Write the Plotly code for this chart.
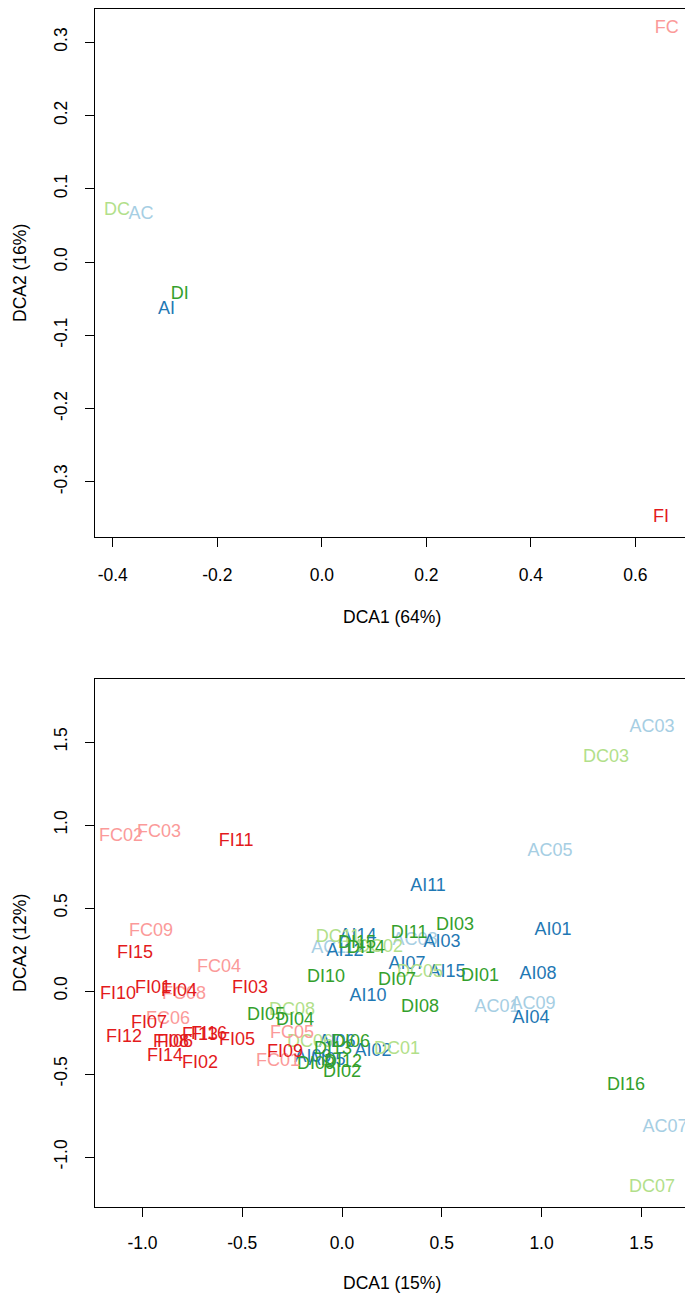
import plotly.graph_objects as go

# ---------------- data ----------------
# Top panel: group centroids
top_labels = ["FC", "FI", "DC", "AC", "DI", "AI"]
top_x = [0.660, 0.649, -0.392, -0.346, -0.272, -0.297]
top_y = [0.318, -0.349, 0.070, 0.065, -0.044, -0.065]

# Bottom panel: individual samples
bottom_labels = [
    "AC03", "DC03", "FC02", "FC03", "FI11", "AC05", "AI11", "AI01", "DI03", "FC09",
    "DI11", "AC08", "AI03", "DC11", "AI14", "DI15", "AI12", "DI14", "DC02", "AC11",
    "FI15", "AI07", "FC04", "DC05", "AI15", "DI01", "AI08", "DI10", "DI07", "FI03",
    "FI01", "FI04", "FC08", "FI10", "AI10", "AC09", "AC01", "DI08", "DC08", "DI05",
    "AI04", "DI04", "FC06", "FI07", "FC05", "FI13", "FI16", "FI12", "FI05", "FI08",
    "FI06", "DC06", "AI06", "DI06", "DC01", "DI13", "AI02", "FI09", "FI14", "AI09",
    "AI05", "FC01", "DI12", "FI02", "DI09", "DI02", "DI16", "AC07", "DC07",
]
bottom_x = [
    1.554, 1.323, -1.108, -0.917, -0.531, 1.043, 0.431, 1.058, 0.566, -0.957,
    0.336, 0.366, 0.501, -0.020, 0.080, 0.075, 0.015, 0.120, 0.190, -0.045,
    -1.038, 0.326, -0.617, 0.391, 0.526, 0.692, 0.982, -0.080, 0.276, -0.461,
    -0.947, -0.817, -0.792, -1.123, 0.130, 0.957, 0.777, 0.391, -0.251, -0.381,
    0.947, -0.236, -0.872, -0.967, -0.251, -0.712, -0.667, -1.093, -0.526, -0.857,
    -0.837, -0.160, -0.025, 0.045, 0.276, -0.045, 0.155, -0.286, -0.887, -0.145,
    -0.075, -0.321, 0.005, -0.712, -0.130, 0.000, 1.424, 1.619, 1.554,
]
bottom_y = [
    1.590, 1.410, 0.934, 0.958, 0.904, 0.843, 0.627, 0.367, 0.392, 0.361,
    0.349, 0.307, 0.295, 0.325, 0.331, 0.289, 0.241, 0.259, 0.265, 0.259,
    0.229, 0.163, 0.139, 0.114, 0.114, 0.090, 0.102, 0.084, 0.066, 0.018,
    0.018, 0.000, -0.018, -0.018, -0.030, -0.078, -0.102, -0.102, -0.120, -0.145,
    -0.163, -0.175, -0.169, -0.193, -0.253, -0.265, -0.259, -0.277, -0.295, -0.307,
    -0.307, -0.307, -0.307, -0.307, -0.355, -0.355, -0.367, -0.373, -0.392, -0.398,
    -0.416, -0.422, -0.428, -0.434, -0.440, -0.488, -0.566, -0.825, -1.181,
]

group_order = ["AC", "AI", "DC", "DI", "FC", "FI"]
group_colors = {
    "AC": "#A6CEE3", "AI": "#1F78B4", "DC": "#B2DF8A",
    "DI": "#33A02C", "FC": "#FB9A99", "FI": "#E31A1C",
}

top_xticks = [-0.4, -0.2, 0.0, 0.2, 0.4, 0.6]
top_xticktext = ["-0.4", "-0.2", "0.0", "0.2", "0.4", "0.6"]
top_yticks = [-0.3, -0.2, -0.1, 0.0, 0.1, 0.2, 0.3]
top_yticktext = ["-0.3", "-0.2", "-0.1", "0.0", "0.1", "0.2", "0.3"]
bot_xticks = [-1.0, -0.5, 0.0, 0.5, 1.0, 1.5]
bot_xticktext = ["-1.0", "-0.5", "0.0", "0.5", "1.0", "1.5"]
bot_yticks = [-1.0, -0.5, 0.0, 0.5, 1.0, 1.5]
bot_yticktext = ["-1.0", "-0.5", "0.0", "0.5", "1.0", "1.5"]

# ---------------- figure ----------------
W, H = 685, 1294
FONT = "Liberation Sans, Arial, Helvetica, sans-serif"
FS = 17.5
LFS = 18

fig = go.Figure()

for lab, x, y in zip(top_labels, top_x, top_y):
    fig.add_trace(go.Scatter(
        x=[x], y=[y], text=[lab], mode="text", xaxis="x", yaxis="y",
        textfont=dict(family=FONT, size=LFS, color=group_colors[lab[:2]]),
        showlegend=False, hoverinfo="text"))

for g in group_order:
    idx = [i for i, l in enumerate(bottom_labels) if l[:2] == g]
    fig.add_trace(go.Scatter(
        x=[bottom_x[i] for i in idx], y=[bottom_y[i] for i in idx],
        text=[bottom_labels[i] for i in idx], mode="text",
        xaxis="x2", yaxis="y2",
        textfont=dict(family=FONT, size=LFS, color=group_colors[g]),
        showlegend=False, hoverinfo="text"))

def px_x(p):
    return p / W

def px_y(p):
    return 1 - p / H

axis_common = dict(
    showgrid=False, zeroline=False, showline=True, linecolor="black",
    linewidth=1.3, ticks="outside", ticklen=9, tickwidth=1.3, tickcolor="black",
    tickfont=dict(family=FONT, size=FS, color="black"),
)

def title_ann(text, x, y, angle=0):
    return dict(text=text, x=px_x(x), y=px_y(y), xref="paper", yref="paper",
                xanchor="center", yanchor="middle", showarrow=False,
                textangle=angle, font=dict(family=FONT, size=FS, color="black"))

fig.update_layout(
    width=W, height=H, margin=dict(l=0, r=0, t=0, b=0),
    paper_bgcolor="white", plot_bgcolor="white",
    xaxis=dict(domain=[px_x(95), 1.0], anchor="y",
               range=[-0.434, 0.695], tickvals=top_xticks, ticktext=top_xticktext,
               mirror=True, ticklabelstandoff=13, **axis_common),
    yaxis=dict(domain=[px_y(537), px_y(9)], anchor="x",
               range=[-0.3752, 0.3452], tickvals=top_yticks, ticktext=top_yticktext,
               tickangle=-90, ticklabelstandoff=11, **axis_common),
    xaxis2=dict(domain=[px_x(95), 1.0], anchor="y2",
                range=[-1.238, 1.719], tickvals=bot_xticks, ticktext=bot_xticktext,
                mirror=True, ticklabelstandoff=11, **axis_common),
    yaxis2=dict(domain=[px_y(1207), px_y(679)], anchor="x2",
                range=[-1.301, 1.880], tickvals=bot_yticks, ticktext=bot_yticktext,
                tickangle=-90, ticklabelstandoff=11, **axis_common),
    annotations=[
        title_ann("DCA1 (64%)", 392, 617),
        title_ann("DCA2 (16%)", 20, 273, -90),
        title_ann("DCA1 (15%)", 392, 1283),
        title_ann("DCA2 (12%)", 20, 943, -90),
    ],
)

fig.write_html(
    "out.html",
    config={"displayModeBar": False},
    post_script="document.body.style.margin='0';document.body.style.overflow='hidden';",
)
